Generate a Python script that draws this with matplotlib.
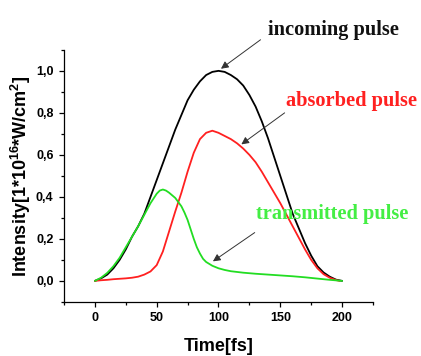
import numpy as np
import matplotlib
matplotlib.use("Agg")
import matplotlib.pyplot as plt
from matplotlib.ticker import MultipleLocator, FuncFormatter

plt.rcParams['font.family'] = ['Liberation Sans', 'DejaVu Sans']
plt.rcParams['mathtext.fontset'] = 'custom'
plt.rcParams['mathtext.bf'] = 'Liberation Sans:bold'
plt.rcParams['mathtext.rm'] = 'Liberation Sans:bold'
plt.rcParams['mathtext.default'] = 'bf'

# incoming pulse
t_in = [0, 5, 10, 15, 20, 25, 30, 35, 40, 45, 50, 55, 60, 65, 70, 75, 80, 85, 90, 95, 100,
        105, 110, 115, 120, 125, 130, 135, 140, 145, 150, 155, 160, 165, 170, 175, 180, 185, 190, 195, 200]
I_in = [0, 0.012, 0.03, 0.06, 0.10, 0.15, 0.21, 0.26, 0.32, 0.40, 0.48, 0.56, 0.64, 0.72, 0.79, 0.86, 0.91, 0.95, 0.98, 0.995, 1.0,
        0.995, 0.98, 0.96, 0.93, 0.885, 0.83, 0.76, 0.68, 0.59, 0.50, 0.41, 0.32, 0.25, 0.18, 0.12, 0.07, 0.04, 0.02, 0.006, 0]

# absorbed pulse
t_abs = [0, 5, 10, 15, 20, 25, 30, 35, 40, 45, 50, 55, 60, 65, 70, 75, 80, 85, 90, 95, 100,
         105, 110, 115, 120, 125, 130, 135, 140, 145, 150, 155, 160, 165, 170, 175, 180, 185, 190, 195, 198]
I_abs = [0, 0.003, 0.005, 0.008, 0.01, 0.012, 0.015, 0.02, 0.03, 0.045, 0.075, 0.14, 0.235, 0.33, 0.42, 0.52, 0.61, 0.675, 0.705, 0.715, 0.705,
         0.69, 0.675, 0.655, 0.63, 0.60, 0.565, 0.52, 0.47, 0.42, 0.37, 0.315, 0.26, 0.205, 0.15, 0.10, 0.06, 0.032, 0.015, 0.004, 0]

# transmitted pulse
t_tr = [0, 5, 10, 15, 20, 25, 30, 35, 40, 45, 50, 52.5, 55, 57.5, 60, 65, 70, 72.5, 75, 77.5, 80, 82.5, 85, 87.5, 90, 95, 100,
        105, 110, 120, 130, 140, 150, 160, 170, 180, 190, 200]
I_tr = [0, 0.015, 0.038, 0.07, 0.11, 0.16, 0.21, 0.26, 0.315, 0.37, 0.415, 0.43, 0.435, 0.43, 0.42, 0.395, 0.355, 0.325, 0.29, 0.245, 0.20, 0.16, 0.13, 0.105, 0.09, 0.072, 0.06,
        0.052, 0.046, 0.039, 0.034, 0.03, 0.026, 0.022, 0.017, 0.011, 0.005, 0]

fig = plt.figure(figsize=(4.21, 3.56), dpi=100)
ax = fig.add_axes([0.152, 0.152, 0.734, 0.708])

line_kw = dict(lw=1.3, solid_joinstyle='round', solid_capstyle='round')
ax.plot(t_in, I_in, color='black', **line_kw)
ax.plot(t_abs, I_abs, color='#ff2020', **line_kw)
ax.plot(t_tr, I_tr, color='#22dd22', **line_kw)

ax.set_xlim(-25, 225)
ax.set_ylim(-0.1, 1.1)
ax.xaxis.set_major_locator(MultipleLocator(50))
ax.xaxis.set_minor_locator(MultipleLocator(25))
ax.yaxis.set_major_locator(MultipleLocator(0.2))
ax.yaxis.set_minor_locator(MultipleLocator(0.1))
ax.yaxis.set_major_formatter(FuncFormatter(lambda v, p: ('%.1f' % v).replace('.', ',')))
ax.tick_params(which='major', direction='out', length=3.5, width=0.9, labelsize=9, pad=4)
ax.tick_params(which='minor', direction='out', length=2, width=0.9)
for lab in ax.get_xticklabels() + ax.get_yticklabels():
    lab.set_fontweight('bold')
for s in ['top', 'right']:
    ax.spines[s].set_visible(False)
for s in ['left', 'bottom']:
    ax.spines[s].set_linewidth(0.9)

ax.set_xlabel('Time[fs]', fontsize=13, fontweight='bold', labelpad=10)
ax.set_ylabel('Intensity[1*10$^{16}$*W/cm$^2$]', fontsize=13, fontweight='bold', labelpad=2)

arrow = dict(arrowstyle='-|>', color='#333333', lw=0.7, mutation_scale=11, shrinkA=0, shrinkB=0)
font = dict(family='Liberation Serif', fontweight='bold', fontsize=14.7, va='center', ha='left')
ax.annotate('', xy=(102, 1.01), xytext=(134, 1.148), arrowprops=arrow, annotation_clip=False)
ax.text(140, 1.195, 'incoming pulse', color='#111111', clip_on=False, **font)
ax.annotate('', xy=(118.5, 0.65), xytext=(153.5, 0.80), arrowprops=arrow, annotation_clip=False)
ax.text(155, 0.858, 'absorbed pulse', color='#ff2020', clip_on=False, **font)
ax.annotate('', xy=(95.5, 0.093), xytext=(129.3, 0.23), arrowprops=arrow, annotation_clip=False)
ax.text(130.7, 0.319, 'transmitted pulse', color='#44ee44', clip_on=False, **font)

fig.savefig('out.png', dpi=100)
